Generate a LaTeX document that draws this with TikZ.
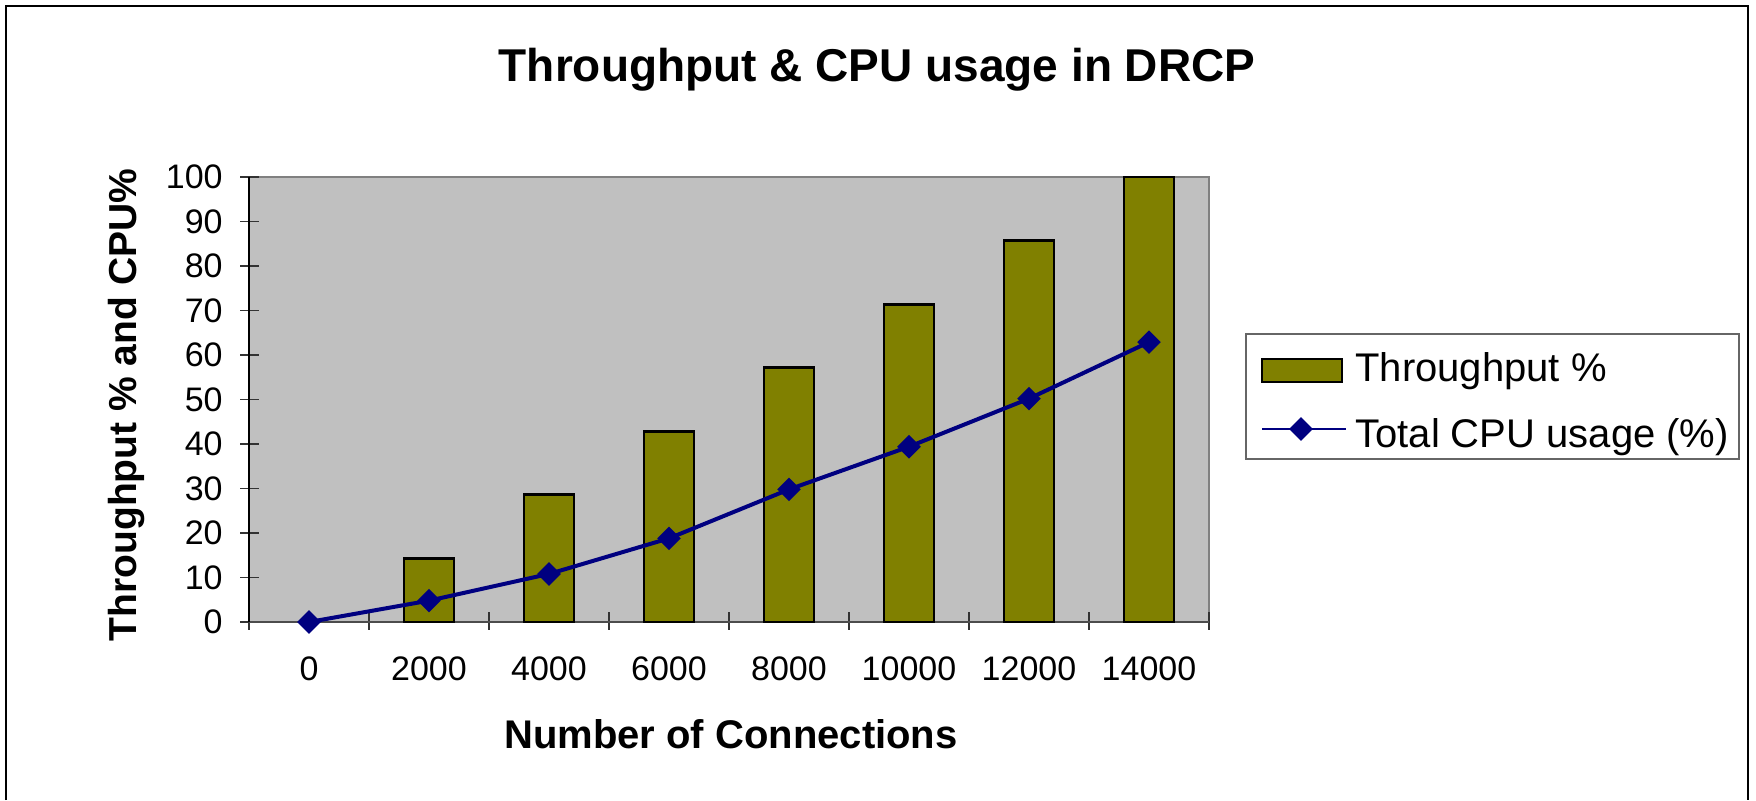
\documentclass[tikz,border=0pt]{standalone}
\usepackage{fontspec}
\setmainfont{Liberation Sans}
\usetikzlibrary{shapes.geometric}
\definecolor{olivebar}{RGB}{128,128,0}
\definecolor{navyline}{RGB}{0,0,128}
\definecolor{plotgray}{RGB}{192,192,192}
\tikzset{
  bar/.style={draw=black, line width=1.4pt, fill=olivebar},
  cpumark/.style={diamond, fill=navyline, inner sep=0pt, minimum size=12pt},
  ticklabel/.style={font=\fontsize{17}{17}\selectfont, inner sep=0pt},
  legendtext/.style={font=\fontsize{20}{20}\selectfont, anchor=base west, inner sep=0pt}
}

\begin{document}
\begin{tikzpicture}[x=0.5pt, y=-0.5pt]
	%%%%% START %%%%%
	\useasboundingbox (0,0) rectangle (1756,800);
	\draw[line width=1pt] (6,800) -- (6,5.5) -- (1748,5.5) -- (1748,800);
	
	\node[font=\bfseries\fontsize{23}{23}\selectfont, anchor=base] (title) at (877,81) {Throughput \& CPU usage in DRCP};
	
	\draw[line width=1pt, draw=black!50, fill=plotgray] (249,177) rectangle (1209,622);
	
	\foreach \v in {0,10,...,100} {
		\draw[line width=0.8pt, color=black!80] (240,{622-4.45*\v}) -- (259,{622-4.45*\v});
		\node[ticklabel, anchor=east] (y\v) at (223,{622-4.45*\v}) {\v};
	}
	\foreach \i in {0,...,8}
		\draw[line width=0.8pt, color=black!80] ({249+120*\i},612) -- ({249+120*\i},630);
	\foreach \n [count=\i from 0] in {0,2000,4000,6000,8000,10000,12000,14000}
		\node[ticklabel, anchor=base] (x\i) at ({309+120*\i},680) {\n};
	
	\draw[line width=0.8pt, color=black!70] (249,622) -- (1209,622);
	\draw[line width=0.8pt] (249,177) -- (249,622);
	
	\foreach \v [count=\i] in {14.29,28.57,42.86,57.14,71.43,85.71,100}
		\draw[bar] ({309+120*\i-25},622) rectangle ({309+120*\i+25},{622-4.45*\v});
	
	\foreach \v [count=\i from 0] in {0,4.8,10.8,18.8,29.8,39.4,50.2,62.9}
		\coordinate (c\i) at ({309+120*\i},{622-4.45*\v});
	\draw[line width=2pt, color=navyline] (c0) -- (c1) -- (c2) -- (c3) -- (c4) -- (c5) -- (c6) -- (c7);
	\foreach \i in {0,...,7}
		\node[cpumark] (m\i) at (c\i) {};
	
	\node[font=\bfseries\fontsize{19.5}{19.5}\selectfont, rotate=90] (ylabel) at (127,405) {Throughput \% and CPU\%};
	\node[font=\bfseries\fontsize{20}{20}\selectfont, anchor=base] (xlabel) at (731,748) {Number of Connections};
	
	\draw[line width=0.6pt, draw=black!60] (1246,334) rectangle (1739,459);
	\draw[bar] (1262,359) rectangle (1342,382);
	\node[legendtext] (legthru) at (1355,381) {Throughput \%};
	\coordinate (legA) at (1262,429);
	\coordinate (legB) at (1346,429);
	\draw[line width=1.2pt, color=navyline] (legA) -- (legB);
	\node[cpumark] (legmark) at (1301,429) {};
	\node[legendtext] (legcpu) at (1355,447) {Total CPU usage (\%)};
	%%%%% END %%%%%
\end{tikzpicture}
\end{document}
